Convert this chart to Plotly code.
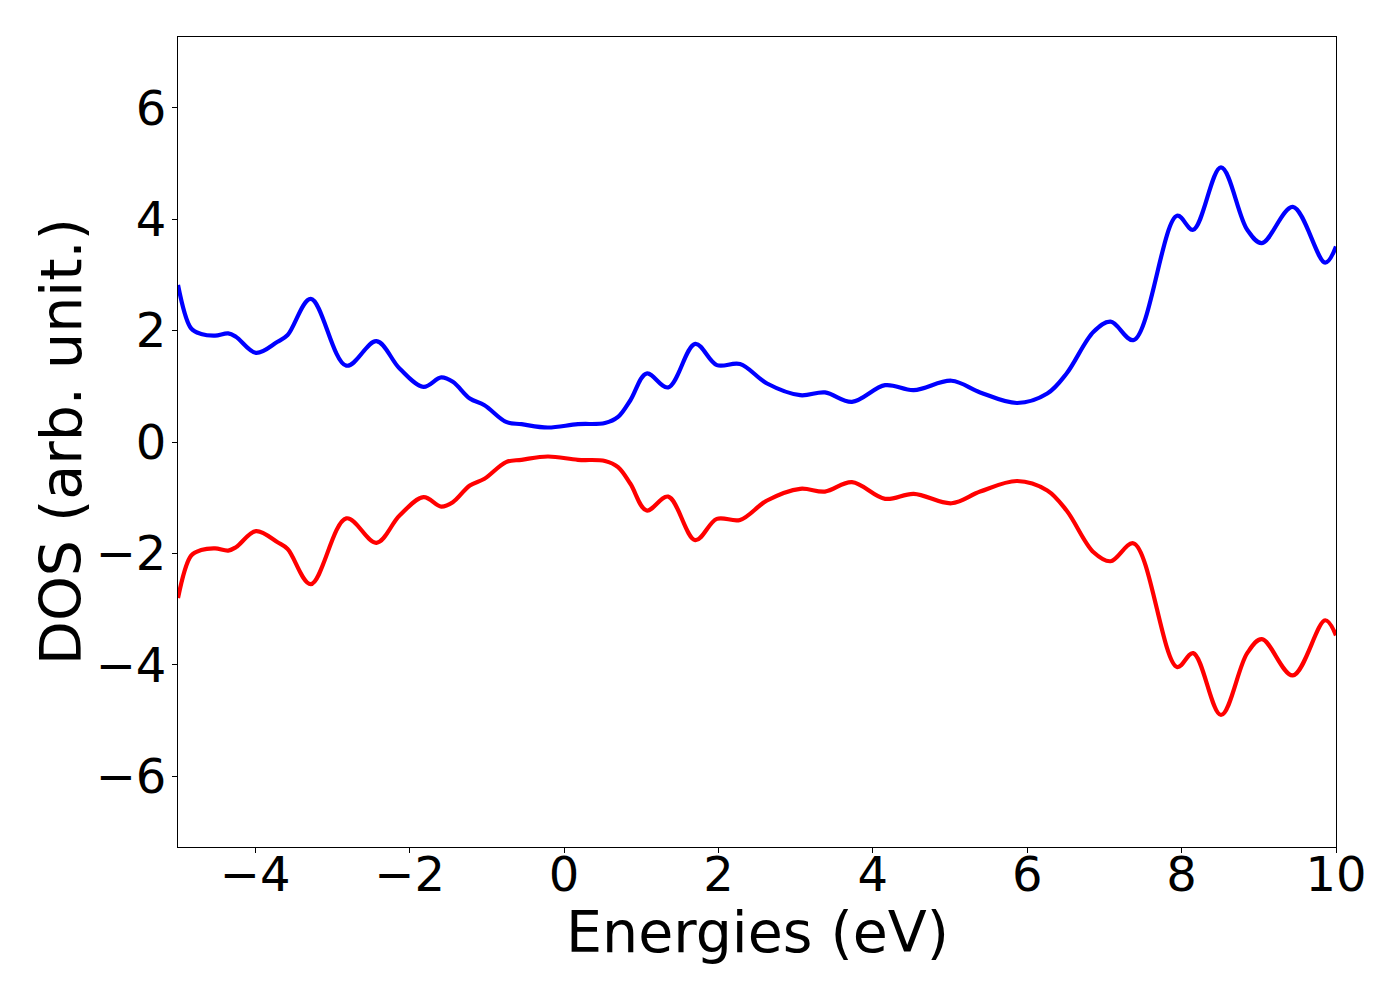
import plotly.graph_objects as go

energies = [-5.0, -4.83, -4.70, -4.52, -4.35, -4.25, -3.99, -3.71, -3.58, -3.28,
            -2.82, -2.43, -2.13, -1.82, -1.59, -1.44, -1.22, -1.03,
            -0.75, -0.55, -0.21, 0.18, 0.53, 0.70, 0.86, 1.07, 1.35, 1.70, 1.98, 2.28,
            2.63, 3.06, 3.38, 3.73, 4.16, 4.53, 5.02, 5.39, 5.87, 6.26, 6.51, 6.86, 7.08,
            7.38, 7.94, 8.15, 8.51, 8.85, 9.04, 9.44, 9.86, 10.0]

dos_up = [2.82, 2.04, 1.94, 1.91, 1.95, 1.89, 1.60, 1.80, 1.92, 2.57,
          1.37, 1.81, 1.32, 0.99, 1.16, 1.08, 0.78, 0.66,
          0.36, 0.32, 0.26, 0.32, 0.34, 0.45, 0.75, 1.23, 0.98, 1.76, 1.38, 1.40,
          1.05, 0.84, 0.89, 0.72, 1.02, 0.93, 1.10, 0.89, 0.70, 0.87, 1.23, 1.98, 2.16,
          1.83, 4.06, 3.81, 4.93, 3.81, 3.57, 4.22, 3.22, 3.51]

dos_down = [-2.80, -2.04, -1.94, -1.91, -1.95, -1.89, -1.60, -1.80, -1.92, -2.55,
            -1.37, -1.81, -1.32, -0.99, -1.16, -1.08, -0.78, -0.66,
            -0.36, -0.32, -0.26, -0.32, -0.34, -0.45, -0.75, -1.23, -0.98, -1.76, -1.38, -1.40,
            -1.05, -0.84, -0.89, -0.72, -1.02, -0.93, -1.10, -0.89, -0.70, -0.87, -1.23, -1.98, -2.14,
            -1.82, -4.04, -3.79, -4.90, -3.79, -3.54, -4.19, -3.20, -3.47]

x_ticks = [-4, -2, 0, 2, 4, 6, 8, 10]
y_ticks = [-6, -4, -2, 0, 2, 4, 6]

fig = go.Figure()
fig.add_trace(go.Scatter(x=energies, y=dos_up, mode="lines",
                         line=dict(color="#0000ff", width=4.2, shape="spline", smoothing=1.0),
                         showlegend=False))
fig.add_trace(go.Scatter(x=energies, y=dos_down, mode="lines",
                         line=dict(color="#ff0000", width=4.2, shape="spline", smoothing=1.0),
                         showlegend=False))

axis_common = dict(showgrid=False, zeroline=False, showline=True, linecolor="black",
                   linewidth=1, mirror=True, ticks="outside", ticklen=5, tickwidth=1,
                   tickcolor="black", tickfont=dict(family="DejaVu Sans", size=48, color="black"))

fig.update_xaxes(range=[-5, 10], tickvals=x_ticks, ticklabelstandoff=-20, **axis_common)
fig.update_yaxes(range=[-7.27, 7.27], tickvals=y_ticks, ticklabelstandoff=-4, **axis_common)

title_font = dict(family="DejaVu Sans", size=57, color="black")
fig.add_annotation(text="Energies (eV)", xref="paper", yref="paper", x=0.5, y=0,
                   xanchor="center", yanchor="middle", yshift=-85, showarrow=False,
                   font=title_font)
fig.add_annotation(text="DOS (arb. unit.)", xref="paper", yref="paper", x=0, y=0.5,
                   xanchor="center", yanchor="middle", xshift=-117, textangle=-90,
                   showarrow=False, font=title_font)

fig.update_layout(width=1400, height=1000, plot_bgcolor="white", paper_bgcolor="white",
                  margin=dict(l=170, r=72, t=29, b=161, autoexpand=False),
                  font=dict(family="DejaVu Sans"))

fig.write_html("out.html")
